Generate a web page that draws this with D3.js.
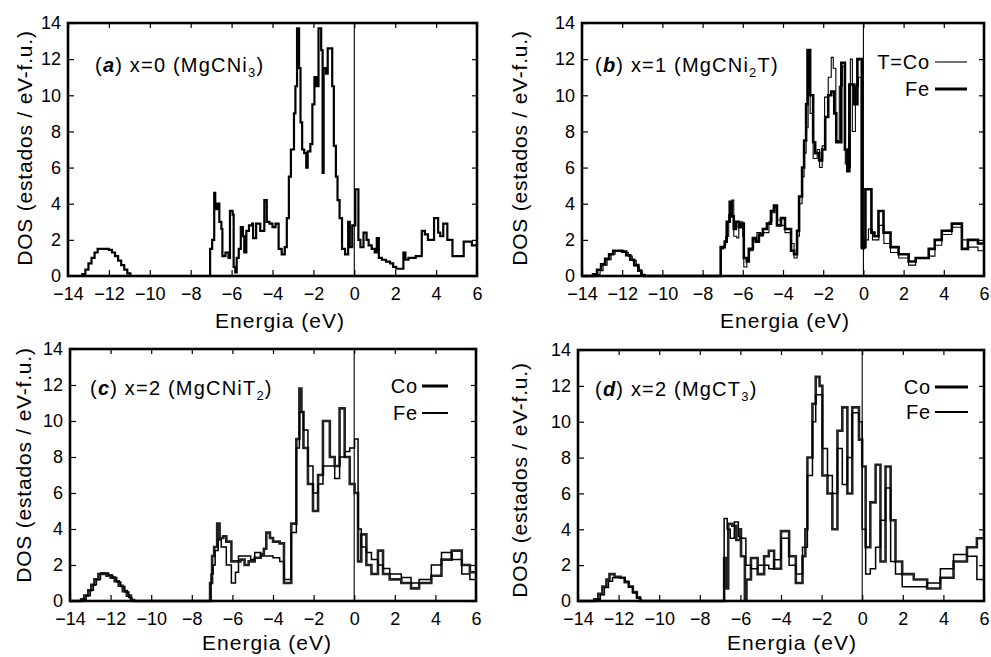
<!DOCTYPE html>
<html>
<head>
<meta charset="utf-8">
<script src="https://cdnjs.cloudflare.com/ajax/libs/d3/7.8.5/d3.min.js"></script>
<style>
  body { margin: 0; background: #fff; }
  svg { display: block; }
  text { font-family: 'Liberation Sans', Arial, sans-serif; fill: #000; }
</style>
</head>
<body>
<svg id="chart" width="991" height="657"></svg>
<script>
// tick values (energy in eV, DOS in states / eV-f.u.)
const xTicks = [-14, -12, -10, -8, -6, -4, -2, 0, 2, 4, 6];
const yTicks = [0, 2, 4, 6, 8, 10, 12, 14];

// each series: [energy where a step starts, DOS value of that step]
const dosA = [[-14,0],[-13.3,0.1],[-13.15,0.35],[-13.0,0.7],[-12.85,1.0],[-12.7,1.3],[-12.55,1.5],[-12.0,1.45],[-11.85,1.3],[-11.7,1.1],[-11.55,0.85],[-11.4,0.6],[-11.25,0.35],[-11.1,0.15],[-10.95,0],
  [-7.05,1.5],[-6.95,2.0],[-6.85,4.6],[-6.8,3.7],[-6.7,4.0],[-6.6,3.0],[-6.5,2.6],[-6.45,1.1],[-6.3,1.3],[-6.15,1.0],[-6.08,3.6],[-5.95,3.4],[-5.9,0.5],[-5.82,0.2],[-5.75,1.0],[-5.65,1.5],[-5.55,2.7],[-5.45,2.2],[-5.38,1.3],[-5.28,2.5],[-5.15,2.8],[-5.0,2.9],[-4.95,2.1],[-4.8,2.9],[-4.6,2.5],[-4.4,4.2],[-4.28,3.0],[-4.15,2.9],[-4.0,2.7],[-3.85,2.9],[-3.7,1.5],[-3.55,1.2],[-3.4,1.6],[-3.3,3.2],[-3.2,5.5],[-3.1,7.0],[-2.95,9.0],[-2.88,10.5],[-2.8,13.7],[-2.7,11.5],[-2.63,8.5],[-2.55,7.0],[-2.45,6.8],[-2.35,6.0],[-2.28,6.9],[-2.15,7.3],[-2.05,9.5],[-1.95,11.0],[-1.85,10.5],[-1.75,13.7],[-1.62,12.5],[-1.55,5.7],[-1.5,11.5],[-1.38,11.2],[-1.3,12.6],[-1.08,10.5],[-1.0,7.2],[-0.9,5.5],[-0.82,4.2],[-0.72,3.2],[-0.6,1.5],[-0.45,1.2],[-0.3,3.0],[-0.22,1.6],[-0.1,2.8],[0.05,4.8],[0.2,2.0],[0.3,1.6],[0.45,2.4],[0.6,2.0],[0.7,1.7],[0.85,1.5],[1.0,1.3],[1.1,2.1],[1.2,1.0],[1.35,0.9],[1.55,0.8],[1.75,0.7],[1.9,0.5],[2.05,0.4],[2.4,1.3],[2.5,0.9],[2.65,1.0],[3.0,1.1],[3.3,2.5],[3.45,2.3],[3.6,2.0],[3.9,3.2],[4.1,2.4],[4.2,2.2],[4.35,2.9],[4.55,2.0],[4.8,1.1],[5.35,1.9],[5.75,1.7],[6,1.7]];

const dosBCo = [[-14,0],[-13.3,0.1],[-13.1,0.3],[-12.95,0.6],[-12.75,0.9],[-12.55,1.2],[-12.35,1.4],[-11.9,1.3],[-11.7,1.1],[-11.5,0.85],[-11.3,0.55],[-11.15,0.25],[-11.0,0.05],[-10.85,0],
  [-7.1,1.5],[-6.95,1.7],[-6.85,2.2],[-6.7,3.4],[-6.55,4.2],[-6.45,2.2],[-6.3,2.1],[-6.2,3.0],[-6.0,2.2],[-5.95,0.5],[-5.8,0.9],[-5.7,1.4],[-5.5,2.0],[-5.3,2.4],[-5.1,2.2],[-5.0,2.4],[-4.7,3.0],[-4.55,3.5],[-4.4,3.8],[-4.3,3.1],[-4.1,2.8],[-3.9,2.4],[-3.6,1.8],[-3.45,1.0],[-3.3,2.2],[-3.18,4.0],[-3.05,5.5],[-2.95,6.8],[-2.85,8.2],[-2.75,11.8],[-2.65,9.0],[-2.5,6.5],[-2.3,7.0],[-2.18,6.0],[-2.05,7.2],[-1.93,9.9],[-1.75,11.0],[-1.6,12.1],[-1.5,11.5],[-1.37,7.5],[-1.2,10.5],[-1.05,11.6],[-0.9,6.2],[-0.75,6.0],[-0.65,12.0],[-0.55,8.0],[-0.4,10.5],[-0.25,11.0],[-0.1,1.5],[0.05,2.0],[0.25,2.6],[0.45,2.0],[0.77,2.8],[1.02,1.8],[1.35,1.3],[1.76,1.0],[2.25,0.6],[2.6,1.0],[3.24,1.1],[3.56,1.7],[3.9,2.3],[4.4,2.7],[4.9,2.0],[5.2,1.6],[5.7,1.4],[6,1.4]];

const dosBFe = [[-14,0],[-13.45,0.1],[-13.25,0.35],[-13.05,0.65],[-12.85,0.95],[-12.65,1.2],[-12.45,1.4],[-12.0,1.35],[-11.8,1.15],[-11.6,0.9],[-11.4,0.6],[-11.2,0.3],[-11.05,0.05],[-10.9,0],
  [-7.1,1.6],[-6.9,1.9],[-6.8,3.0],[-6.65,4.1],[-6.55,3.3],[-6.45,2.6],[-6.35,3.0],[-6.2,2.7],[-6.1,2.9],[-5.95,1.0],[-5.8,0.8],[-5.7,1.5],[-5.5,2.1],[-5.35,1.9],[-5.2,2.3],[-5.0,2.6],[-4.8,2.9],[-4.6,3.6],[-4.45,3.9],[-4.3,2.8],[-4.1,3.2],[-3.9,2.6],[-3.6,1.4],[-3.45,1.2],[-3.3,2.5],[-3.2,4.4],[-3.05,6.0],[-2.95,7.5],[-2.85,9.5],[-2.78,12.5],[-2.65,10.0],[-2.5,7.4],[-2.4,6.8],[-2.2,6.4],[-2.05,7.0],[-1.9,8.8],[-1.75,10.0],[-1.6,10.2],[-1.45,9.0],[-1.35,7.4],[-1.1,11.8],[-0.92,7.0],[-0.8,5.8],[-0.7,10.6],[-0.45,9.5],[-0.3,12.0],[-0.08,1.6],[0.1,4.8],[0.4,2.4],[0.55,2.2],[0.75,3.6],[1.0,2.4],[1.35,1.6],[1.75,1.2],[2.25,0.8],[2.6,1.0],[3.25,1.5],[3.55,2.0],[3.9,2.5],[4.4,2.9],[4.9,1.5],[5.2,2.0],[5.7,1.8],[6,1.8]];

const dosCCo = [[-14,0],[-13.45,0.1],[-13.3,0.3],[-13.1,0.6],[-12.95,0.9],[-12.8,1.2],[-12.6,1.5],[-12.2,1.4],[-12.0,1.3],[-11.8,1.1],[-11.6,0.85],[-11.4,0.55],[-11.2,0.3],[-11.0,0.05],[-10.85,0],
  [-7.1,1.0],[-7.0,2.5],[-6.9,3.0],[-6.75,4.3],[-6.63,3.5],[-6.45,3.6],[-6.3,3.3],[-6.05,2.2],[-5.8,2.2],[-5.6,2.3],[-5.4,2.0],[-5.2,2.2],[-4.9,2.4],[-4.6,2.6],[-4.45,2.9],[-4.33,3.8],[-4.15,3.5],[-4.0,3.3],[-3.67,3.2],[-3.46,1.0],[-3.1,4.3],[-2.85,9.0],[-2.7,11.8],[-2.6,10.5],[-2.5,8.5],[-2.28,6.5],[-2.03,5.0],[-1.78,7.0],[-1.54,10.0],[-1.2,8.0],[-0.96,7.5],[-0.72,10.7],[-0.47,8.0],[-0.22,6.5],[0.02,6.0],[0.19,2.2],[0.35,3.7],[0.6,2.0],[0.85,1.5],[1.17,2.8],[1.42,1.5],[1.75,1.2],[2.32,1.0],[2.8,0.7],[3.2,1.0],[3.8,1.4],[4.3,2.3],[4.8,2.8],[5.3,2.0],[5.7,1.6],[6,1.6]];

const dosCFe = [[-14,0],[-13.35,0.1],[-13.2,0.3],[-13.0,0.6],[-12.85,0.9],[-12.7,1.2],[-12.5,1.55],[-12.1,1.45],[-11.9,1.3],[-11.7,1.05],[-11.5,0.8],[-11.3,0.5],[-11.1,0.2],[-10.95,0],
  [-7.05,1.5],[-6.95,2.0],[-6.85,2.8],[-6.7,3.4],[-6.55,3.0],[-6.3,2.0],[-6.05,1.0],[-5.85,1.6],[-5.7,2.5],[-5.4,2.5],[-5.1,2.3],[-4.9,2.7],[-4.6,2.5],[-4.33,2.5],[-4.0,2.4],[-3.67,2.2],[-3.46,1.2],[-3.1,3.8],[-2.85,8.5],[-2.7,10.5],[-2.5,9.5],[-2.28,7.5],[-2.03,6.0],[-1.78,6.5],[-1.54,7.5],[-1.2,7.5],[-0.96,6.8],[-0.72,8.0],[-0.47,8.3],[-0.22,8.5],[0.02,9.0],[0.19,4.0],[0.35,3.0],[0.6,2.7],[0.85,2.3],[1.17,2.0],[1.42,1.8],[1.75,1.5],[2.32,1.3],[2.8,1.0],[3.2,1.2],[3.8,2.0],[4.3,2.7],[4.8,2.3],[5.3,1.5],[5.7,1.2],[6,1.2]];

const dosDCo = [[-14,0],[-13.2,0.1],[-13.0,0.4],[-12.8,0.8],[-12.6,1.2],[-12.45,1.5],[-12.2,1.35],[-11.9,1.3],[-11.7,1.05],[-11.5,0.8],[-11.3,0.5],[-11.1,0.2],[-10.95,0],
  [-6.8,2.4],[-6.7,0.7],[-6.6,4.3],[-6.4,4.2],[-6.2,3.4],[-6.0,4.0],[-5.97,2.5],[-5.78,0.1],[-5.7,1.2],[-5.48,2.4],[-5.15,1.5],[-4.83,2.5],[-4.6,2.8],[-4.34,1.8],[-4.0,3.9],[-3.6,2.5],[-3.27,1.0],[-2.94,2.5],[-2.8,4.0],[-2.7,8.0],[-2.45,11.0],[-2.29,12.5],[-2.1,12.0],[-1.96,7.0],[-1.71,6.0],[-1.47,4.0],[-1.22,9.5],[-0.98,10.8],[-0.73,6.0],[-0.49,10.8],[-0.16,9.0],[0.0,7.5],[0.17,3.0],[0.4,5.5],[0.66,7.6],[0.9,2.2],[1.15,7.5],[1.4,4.5],[1.64,2.2],[1.97,1.5],[2.54,1.2],[3.2,0.7],[3.85,1.3],[4.5,2.2],[5.16,3.0],[5.65,3.5],[6,3.5]];

const dosDFe = [[-14,0],[-13.1,0.1],[-12.9,0.35],[-12.7,0.75],[-12.5,1.1],[-12.3,1.3],[-11.7,1.1],[-11.5,0.8],[-11.3,0.45],[-11.1,0.15],[-10.9,0],
  [-6.8,4.6],[-6.65,4.0],[-6.5,3.5],[-6.3,4.4],[-6.1,3.6],[-5.97,3.5],[-5.73,2.0],[-5.48,1.8],[-5.15,2.0],[-4.83,2.0],[-4.6,1.8],[-4.34,2.3],[-4.0,3.5],[-3.6,2.0],[-3.27,1.5],[-2.94,3.0],[-2.7,7.0],[-2.45,10.0],[-2.29,11.5],[-1.96,8.5],[-1.71,7.0],[-1.47,6.0],[-1.22,8.5],[-0.98,6.5],[-0.73,8.0],[-0.49,10.5],[-0.16,10.0],[0.0,4.0],[0.17,1.5],[0.4,1.8],[0.66,3.0],[0.9,4.5],[1.15,6.3],[1.4,2.2],[1.64,1.5],[1.97,0.8],[2.54,0.8],[3.2,1.0],[3.85,1.8],[4.5,2.6],[5.16,2.5],[5.65,1.2],[6,1.2]];

const xLabel = "Energia (eV)";
const yLabel = "DOS (estados / eV-f.u.)";

const svg = d3.select("#chart");

// panel layout
const panels = [
  { left: 68, top: 23, right: 477, bottom: 276,
    title: [["(",""],["a","b"],[") x=0 (MgCNi",""],["3","s"],[")",""]], titleX: 95, titleY: 72,
    series: [{ data: dosA, width: 2.2, color: "#000" }],
    legend: null,
    yLabX: 32, yLabY: 148, xLabX: 280, xLabY: 328 },
  { left: 582, top: 23, right: 984, bottom: 276,
    title: [["(",""],["b","b"],[") x=1 (MgCNi",""],["2","s"],["T)",""]], titleX: 595, titleY: 72,
    series: [{ data: dosBFe, width: 2.6, color: "#000" },
             { data: dosBCo, width: 1.1, color: "#000" }],
    legend: { x: 930, lx1: 935, lx2: 967, rows: [{ name: "T=Co", y: 62, width: 1.1 }, { name: "Fe", y: 89, width: 3 }] },
    yLabX: 527, yLabY: 148, xLabX: 785, xLabY: 328 },
  { left: 70, top: 349, right: 476, bottom: 601,
    title: [["(",""],["c","b"],[") x=2 (MgCNiT",""],["2","s"],[")",""]], titleX: 90, titleY: 395,
    series: [{ data: dosCCo, width: 2.6, color: "#222" },
             { data: dosCFe, width: 1.5, color: "#000" }],
    legend: { x: 418, lx1: 422, lx2: 448, rows: [{ name: "Co", y: 386, width: 3 }, { name: "Fe", y: 413, width: 2 }] },
    yLabX: 31, yLabY: 465, xLabX: 267, xLabY: 650 },
  { left: 578, top: 350, right: 984, bottom: 601,
    title: [["(",""],["d","b"],[") x=2 (MgCT",""],["3","s"],[")",""]], titleX: 595, titleY: 396,
    series: [{ data: dosDCo, width: 2.6, color: "#222" },
             { data: dosDFe, width: 1.5, color: "#000" }],
    legend: { x: 931, lx1: 935, lx2: 968, rows: [{ name: "Co", y: 387, width: 3 }, { name: "Fe", y: 412, width: 2 }] },
    yLabX: 527, yLabY: 480, xLabX: 792, xLabY: 650 }
];

function drawPanel(p) {
  const x = d3.scaleLinear().domain([-14, 6]).range([p.left, p.right]);
  const y = d3.scaleLinear().domain([0, 14]).range([p.bottom, p.top]);
  const g = svg.append("g");

  // Fermi level
  g.append("line")
    .attr("x1", x(0)).attr("x2", x(0))
    .attr("y1", y(0)).attr("y2", y(14))
    .attr("stroke", "#000").attr("stroke-width", 1.1);

  const line = d3.line()
    .x(d => x(d[0]))
    .y(d => y(d[1]))
    .curve(d3.curveStepAfter);

  p.series.forEach(s => {
    g.append("path")
      .datum(s.data)
      .attr("d", line)
      .attr("fill", "none")
      .attr("stroke", s.color)
      .attr("stroke-width", s.width)
      .attr("stroke-linejoin", "miter");
  });

  // axes, ticks pointing inward on all four sides
  const styleAxis = a => {
    a.select(".domain").remove();
    a.selectAll(".tick line").attr("stroke", "#000").attr("stroke-width", 1.2);
    a.selectAll(".tick text").attr("font-size", 18)
      .attr("font-family", "'Liberation Sans', Arial, sans-serif").attr("fill", "#000");
  };
  g.append("g").attr("transform", `translate(0,${p.bottom})`)
    .call(d3.axisBottom(x).tickValues(xTicks).tickSizeInner(-6).tickSizeOuter(0).tickPadding(11))
    .call(styleAxis);
  g.append("g").attr("transform", `translate(0,${p.top})`)
    .call(d3.axisTop(x).tickValues(xTicks).tickSizeInner(-5).tickSizeOuter(0).tickFormat(""))
    .call(styleAxis);
  g.append("g").attr("transform", `translate(${p.left},0)`)
    .call(d3.axisLeft(y).tickValues(yTicks).tickSizeInner(-6).tickSizeOuter(0).tickPadding(7))
    .call(styleAxis);
  g.append("g").attr("transform", `translate(${p.right},0)`)
    .call(d3.axisRight(y).tickValues(yTicks).tickSizeInner(-5).tickSizeOuter(0).tickFormat(""))
    .call(styleAxis);

  // frame
  g.append("rect")
    .attr("x", p.left).attr("y", p.top)
    .attr("width", p.right - p.left).attr("height", p.bottom - p.top)
    .attr("fill", "none").attr("stroke", "#000").attr("stroke-width", 2.6);

  // panel title with bold italic letter and subscript
  const t = g.append("text")
    .attr("x", p.titleX).attr("y", p.titleY)
    .attr("font-size", 20).attr("letter-spacing", 1.2);
  p.title.forEach((part, i) => {
    const ts = t.append("tspan").text(part[0]);
    if (part[1] === "b") ts.attr("font-weight", "bold").attr("font-style", "italic");
    if (part[1] === "s") ts.attr("font-size", 13).attr("dy", 5);
    else if (i > 0 && p.title[i - 1][1] === "s") ts.attr("dy", -5);
  });

  // legend
  if (p.legend) {
    p.legend.rows.forEach(r => {
      g.append("text")
        .attr("x", p.legend.x).attr("y", r.y + 7)
        .attr("text-anchor", "end")
        .attr("font-size", 20).attr("letter-spacing", 0.8)
        .text(r.name);
      g.append("line")
        .attr("x1", p.legend.lx1).attr("x2", p.legend.lx2)
        .attr("y1", r.y).attr("y2", r.y)
        .attr("stroke", "#000").attr("stroke-width", r.width);
    });
  }

  // axis titles
  g.append("text")
    .attr("x", p.xLabX).attr("y", p.xLabY)
    .attr("text-anchor", "middle")
    .attr("font-size", 21).attr("letter-spacing", 1)
    .text(xLabel);
  g.append("text")
    .attr("transform", `translate(${p.yLabX},${p.yLabY}) rotate(-90)`)
    .attr("text-anchor", "middle")
    .attr("font-size", 21).attr("letter-spacing", 0.8)
    .text(yLabel);
}

panels.forEach(drawPanel);
</script>
</body>
</html>
